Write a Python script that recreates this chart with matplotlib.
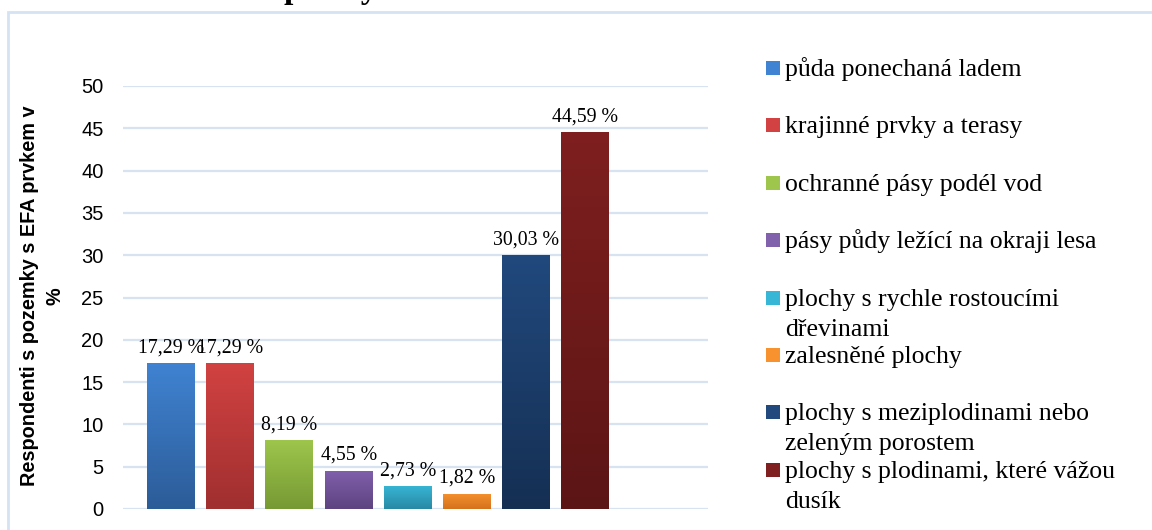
import numpy as np
import matplotlib
matplotlib.use("Agg")
import matplotlib.pyplot as plt
from matplotlib.colors import LinearSegmentedColormap
from matplotlib.patches import Rectangle

# Data
categories = [
    "půda ponechaná ladem",
    "krajinné prvky a terasy",
    "ochranné pásy podél vod",
    "pásy půdy ležící na okraji lesa",
    "plochy s rychle rostoucími\ndřevinami",
    "zalesněné plochy",
    "plochy s meziplodinami nebo\nzeleným porostem",
    "plochy s plodinami, které vážou\ndusík",
]
values = [17.29, 17.29, 8.19, 4.55, 2.73, 1.82, 30.03, 44.59]
value_labels = ["17,29 %", "17,29 %", "8,19 %", "4,55 %", "2,73 %", "1,82 %", "30,03 %", "44,59 %"]
y_ticks = [0, 5, 10, 15, 20, 25, 30, 35, 40, 45, 50]

# gradient colours (top, bottom) per bar
top_colors = ["#4083D2", "#D24242", "#9EC64C", "#8160AC", "#38B6D6", "#F7922F", "#21497D", "#7F1F1F"]
bottom_colors = ["#2C5C98", "#A02F2F", "#779934", "#5D4380", "#2889A4", "#D4711C", "#152F53", "#5C1515"]

W, H = 1152, 530
fig = plt.figure(figsize=(W / 100, H / 100), dpi=100)
fig.patch.set_facecolor("white")

# outer frame (light blue), runs off the right and bottom
fig.patches.append(Rectangle((8 / W, -0.2), 2.0, 1.2 - 12 / H, transform=fig.transFigure,
                             fill=False, edgecolor="#D5E2F3", linewidth=2))

# cut-off title at the very top
fig.text(284 / W, 1 + 2 / H, "plochy", fontsize=24, fontweight="bold",
         family="Liberation Serif", va="baseline", ha="left")

ax = fig.add_axes([123 / W, 1 - 509 / H, (708 - 123) / W, (509 - 86) / H])
x = np.arange(len(values))
bars = ax.bar(x, values, width=0.81, color="none", edgecolor="none", zorder=2)

grad = np.linspace(0, 1, 256).reshape(-1, 1)
for i, b in enumerate(bars):
    cmap = LinearSegmentedColormap.from_list("g%d" % i, [bottom_colors[i], top_colors[i]])
    x0 = b.get_x()
    x1 = x0 + b.get_width()
    im = ax.imshow(grad, extent=[x0, x1, 0, b.get_height()], origin="lower",
                   aspect="auto", cmap=cmap, zorder=2)
    im.set_clip_path(b)
    ax.text(b.get_x() + b.get_width() / 2, b.get_height() + 1.25, value_labels[i],
            ha="center", va="baseline", fontsize=14.3, family="Liberation Serif", zorder=3)

ax.set_xlim(-0.81, 9.07)
ax.set_ylim(0, 50)
ax.set_yticks(y_ticks)
ax.set_yticklabels([str(t) for t in y_ticks], fontsize=14.5, family="Liberation Sans")
ax.tick_params(axis="y", length=0, pad=14)
ax.set_xticks([])
ax.yaxis.grid(True, color="#D8E3F1", linewidth=1.6, zorder=0)
ax.set_axisbelow(True)
for s in ax.spines.values():
    s.set_visible(False)
ax.patch.set_alpha(0)

fig.text(42 / W, 1 - 296 / H, "Respondenti s pozemky s EFA prvkem v\n%", rotation=90,
         ha="center", va="center", fontsize=14.3, fontweight="bold",
         family="Liberation Sans", linespacing=1.45, multialignment="center")

# legend drawn by hand to follow the reference spacing
for i, label in enumerate(categories):
    yc = 68 + i * 57.4
    fig.patches.append(Rectangle((766 / W, 1 - (yc + 7) / H), 14 / W, 14 / H,
                                 transform=fig.transFigure, facecolor=top_colors[i],
                                 edgecolor="none"))
    for j, line in enumerate(label.split("\n")):
        fig.text(785 / W, 1 - (yc + 8 + j * 30) / H, line, fontsize=18.5,
                 family="Liberation Serif", ha="left", va="baseline")

fig.savefig("out.png", dpi=100)
